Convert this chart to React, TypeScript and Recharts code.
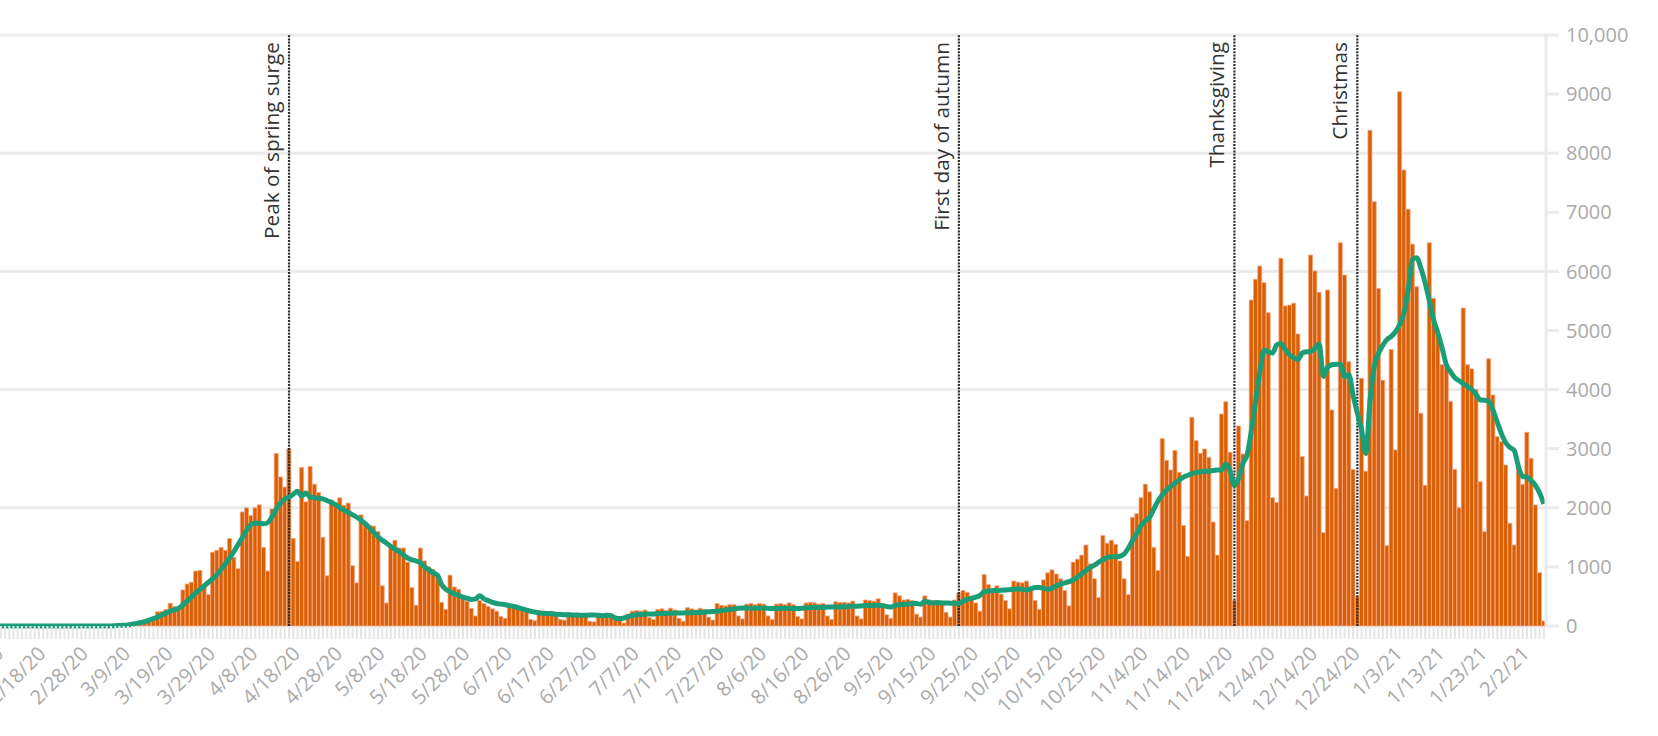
import React from 'react';
import { ComposedChart, Bar, Line, XAxis, YAxis, CartesianGrid, ReferenceLine } from 'recharts';

const FONT = '"Open Sans", "Noto Sans", sans-serif';
const DAY_COUNT = 366;

function buildDates(): string[] {
  const out: string[] = [];
  const start = Date.UTC(2020, 1, 8);
  for (let i = 0; i < DAY_COUNT; i++) {
    const d = new Date(start + i * 86400000);
    out.push(`${d.getUTCMonth() + 1}/${d.getUTCDate()}/${String(d.getUTCFullYear()).slice(2)}`);
  }
  return out;
}
const DATES = buildDates();

const TICK_LABELS = [
  '2/8/20', '2/18/20', '2/28/20', '3/9/20', '3/19/20', '3/29/20', '4/8/20', '4/18/20', '4/28/20',
  '5/8/20', '5/18/20', '5/28/20', '6/7/20', '6/17/20', '6/27/20', '7/7/20', '7/17/20', '7/27/20',
  '8/6/20', '8/16/20', '8/26/20', '9/5/20', '9/15/20', '9/25/20', '10/5/20', '10/15/20', '10/25/20',
  '11/4/20', '11/14/20', '11/24/20', '12/4/20', '12/14/20', '12/24/20', '1/3/21', '1/13/21', '1/23/21', '2/2/21',
];

const Y_TICKS = [0, 1000, 2000, 3000, 4000, 5000, 6000, 7000, 8000, 9000, 10000];
const GRID_VALUES = [0, 2000, 4000, 6000, 8000, 10000];

const EVENT_DATES = ['4/17/20', '9/22/20', '11/26/20', '12/25/20'];
const EVENT_LABELS = ['Peak of spring surge', 'First day of autumn', 'Thanksgiving', 'Christmas'];

// daily new cases, 2/8/20 .. 2/7/21
const CASES = [
  0, 0, 0, 0, 0, 0, 0, 0, 0, 0,
  0, 0, 0, 0, 0, 0, 0, 0, 0, 0,
  0, 0, 0, 0, 0, 0, 0, 0, 0, 0,
  0, 0, 5, 10, 20, 40, 80, 150, 240, 245,
  280, 385, 330, 300, 610, 710, 740, 930, 940, 700,
  530, 1250, 1280, 1330, 1280, 1480, 1160, 970, 1930, 2000,
  1870, 2000, 2050, 1330, 930, 1980, 2920, 2520, 2350, 3000,
  1480, 1090, 2680, 2100, 2700, 2400, 2260, 1500, 850, 2130,
  2090, 2170, 2040, 2080, 1020, 730, 1880, 1760, 1700, 1690,
  1600, 680, 390, 1330, 1450, 1320, 1320, 1080, 650, 350,
  1320, 1100, 1000, 960, 840, 400, 280, 860, 660, 620,
  520, 420, 300, 170, 430, 380, 330, 290, 250, 160,
  130, 330, 320, 300, 280, 260, 110, 90, 260, 250,
  240, 250, 200, 110, 100, 230, 200, 210, 190, 180,
  80, 70, 190, 200, 200, 180, 170, 90, 50, 200,
  250, 260, 250, 270, 140, 110, 280, 290, 260, 300,
  270, 130, 80, 310, 290, 270, 300, 280, 150, 100,
  380, 350, 340, 360, 360, 170, 120, 370, 380, 360,
  380, 370, 170, 110, 370, 380, 360, 390, 360, 160,
  120, 390, 400, 390, 370, 380, 170, 110, 410, 400,
  400, 390, 420, 170, 120, 440, 430, 420, 460, 380,
  190, 130, 560, 510, 440, 450, 430, 200, 150, 510,
  440, 430, 430, 420, 230, 150, 440, 560, 600, 570,
  500, 390, 250, 870, 700, 610, 680, 540, 430, 290,
  760, 740, 730, 760, 600, 430, 280, 780, 900, 950,
  880, 800, 600, 340, 1080, 1130, 1200, 1370, 1050, 800,
  480, 1530, 1400, 1450, 1380, 1100, 800, 530, 1840, 1900,
  2170, 2400, 2270, 1330, 940, 3170, 2800, 2640, 2970, 2600,
  1700, 1180, 3531, 3136, 2922, 2995, 2854, 1760, 1200, 3587,
  3795, 2939, 430, 3384, 2910, 1780, 5516, 5866, 6091, 5809,
  5301, 2170, 2090, 6221, 5414, 5430, 5460, 4941, 2870, 2200,
  6277, 6007, 5646, 1580, 5685, 3655, 2330, 6486, 5939, 4472,
  2650, 500, 4191, 2620, 8390, 7180, 5710, 4160, 1360, 4680,
  2980, 9040, 7715, 7050, 6460, 5740, 3600, 2380, 6485, 5545,
  4950, 4420, 4380, 3800, 2650, 2000, 5380, 4420, 4350, 4000,
  2442, 1596, 4520, 3909, 3203, 3118, 2724, 1738, 1370, 2700,
  2397, 3277, 2837, 2047, 902, 85,
];

// smoothed average line, same days
const AVG = [
  0, 0, 0, 0, 0, 0, 0, 0, 0, 0,
  0, 0, 0, 0, 0, 0, 0, 0, 0, 0,
  0, 0, 0, 0, 0, 0, 0, 0, 5, 8,
  12, 18, 30, 45, 60, 75, 100, 125, 150, 185,
  220, 250, 275, 300, 360, 420, 490, 560, 620, 680,
  740, 800, 870, 960, 1050, 1150, 1260, 1380, 1500, 1620,
  1720, 1740, 1740, 1730, 1750, 1850, 1980, 2080, 2150, 2180,
  2230, 2280, 2200, 2250, 2180, 2170, 2160, 2150, 2120, 2090,
  2050, 2000, 1960, 1920, 1880, 1840, 1790, 1730, 1660, 1580,
  1510, 1450, 1400, 1350, 1300, 1260, 1200, 1150, 1120, 1100,
  1070, 1000, 950, 900, 860, 700, 620, 580, 540, 520,
  490, 470, 450, 460, 510, 460, 430, 400, 380, 370,
  360, 345, 330, 310, 290, 270, 250, 235, 220, 215,
  210, 205, 200, 195, 190, 190, 185, 185, 180, 180,
  185, 185, 180, 175, 180, 175, 130, 125, 135, 160,
  180, 190, 195, 200, 205, 205, 210, 210, 215, 215,
  220, 220, 220, 225, 225, 230, 230, 235, 240, 245,
  250, 260, 270, 280, 290, 300, 305, 305, 300, 300,
  305, 300, 300, 295, 295, 300, 300, 300, 295, 295,
  300, 310, 315, 315, 315, 315, 320, 320, 320, 325,
  325, 330, 335, 335, 340, 345, 345, 350, 350, 345,
  330, 320, 350, 360, 365, 370, 380, 380, 370, 420,
  400, 390, 395, 390, 390, 385, 385, 380, 420, 450,
  470, 490, 520, 580, 590, 600, 600, 605, 610, 615,
  620, 630, 620, 610, 630, 650, 650, 640, 620, 640,
  680, 710, 730, 750, 780, 830, 880, 940, 990, 1030,
  1080, 1120, 1160, 1170, 1170, 1180, 1220, 1320, 1450, 1570,
  1700, 1780, 1840, 1980, 2120, 2220, 2300, 2360, 2420, 2470,
  2520, 2550, 2580, 2600, 2610, 2620, 2620, 2630, 2640, 2640,
  2740, 2620, 2380, 2500, 2750, 2900, 3300, 3800, 4300, 4670,
  4640, 4620, 4760, 4780, 4680, 4590, 4540, 4510, 4620, 4640,
  4645, 4700, 4770, 4220, 4380, 4420, 4430, 4430, 4220, 4250,
  3900, 3600, 3320, 2920, 3820, 4400, 4614, 4750, 4850, 4900,
  4980, 5100, 5300, 5700, 6200, 6230, 6052, 5800, 5500, 5178,
  4955, 4700, 4420, 4300, 4200, 4150, 4100, 4050, 4000, 3920,
  3824, 3820, 3800, 3650, 3450, 3250, 3100, 3020, 2970, 2700,
  2530, 2520, 2460, 2380, 2250, 2064,
];

const fmtY = (v: number) => (v === 10000 ? '10,000' : String(v));

const renderXTick = (props: any) => {
  const { x, y, payload } = props;
  if (!TICK_LABELS.includes(payload.value)) return <g />;
  const ax = x + 8;
  const ay = y + 14;
  return (
    <text
      x={ax}
      y={ay}
      transform={`rotate(-45, ${ax}, ${ay})`}
      textAnchor="end"
      fill="#aaaaaa"
      fontSize={20}
      fontFamily={FONT}
    >
      {payload.value}
    </text>
  );
};

const makeEventLabel = (text: string) => (props: any) => {
  const vb = props.viewBox || {};
  const lx = vb.x - 10;
  const ly = vb.y + 7;
  return (
    <text
      x={lx}
      y={ly}
      transform={`rotate(-90, ${lx}, ${ly})`}
      textAnchor="end"
      fill="#333333"
      fontSize={20.8}
      fontFamily={FONT}
    >
      {text}
    </text>
  );
};

export default function App() {
  const data = DATES.map((date, i) => ({ date, cases: CASES[i], avg: AVG[i] }));
  return (
    <div
      style={{
        position: 'absolute',
        left: 0,
        top: 0,
        width: 1658,
        height: 736,
        overflow: 'hidden',
        background: '#ffffff',
        fontFamily: FONT,
      }}
    >
      <div style={{ position: 'absolute', left: -40, top: 0 }}>
        <ComposedChart
          width={1698}
          height={736}
          data={data}
          margin={{ top: 35, right: 0, bottom: 0, left: 34.4 }}
          barCategoryGap={0}
          barGap={0}
          style={{ fontFamily: FONT }}
        >
          <CartesianGrid vertical={false} horizontalValues={GRID_VALUES} stroke="#ebebeb" strokeWidth={3} />
          <XAxis
            dataKey="date"
            type="category"
            interval={0}
            height={110}
            tickSize={13}
            tickMargin={2}
            axisLine={false}
            tickLine={{ stroke: '#e6e6e6', strokeWidth: 2 }}
            tick={renderXTick}
          />
          <YAxis
            orientation="right"
            width={112}
            domain={[0, 10000]}
            ticks={Y_TICKS}
            interval={0}
            tickSize={13}
            tickMargin={7}
            axisLine={{ stroke: '#ebebeb', strokeWidth: 3 }}
            tickLine={{ stroke: '#ebebeb', strokeWidth: 3 }}
            tick={{ fill: '#aaaaaa', fontSize: 20, fontFamily: FONT }}
            tickFormatter={fmtY}
          />
          <Bar dataKey="cases" fill="#d95f02" stroke="#f4a582" strokeWidth={0.8} isAnimationActive={false} />
          {EVENT_DATES.map((d, k) => (
            <ReferenceLine
              key={d}
              x={d}
              stroke="#2b2b2b"
              strokeWidth={2.2}
              strokeDasharray="2 1.2"
              label={makeEventLabel(EVENT_LABELS[k])}
            />
          ))}
          <Line
            dataKey="avg"
            type="monotone"
            stroke="#1b9e77"
            strokeWidth={5}
            dot={false}
            activeDot={false}
            isAnimationActive={false}
          />
        </ComposedChart>
      </div>
    </div>
  );
}
